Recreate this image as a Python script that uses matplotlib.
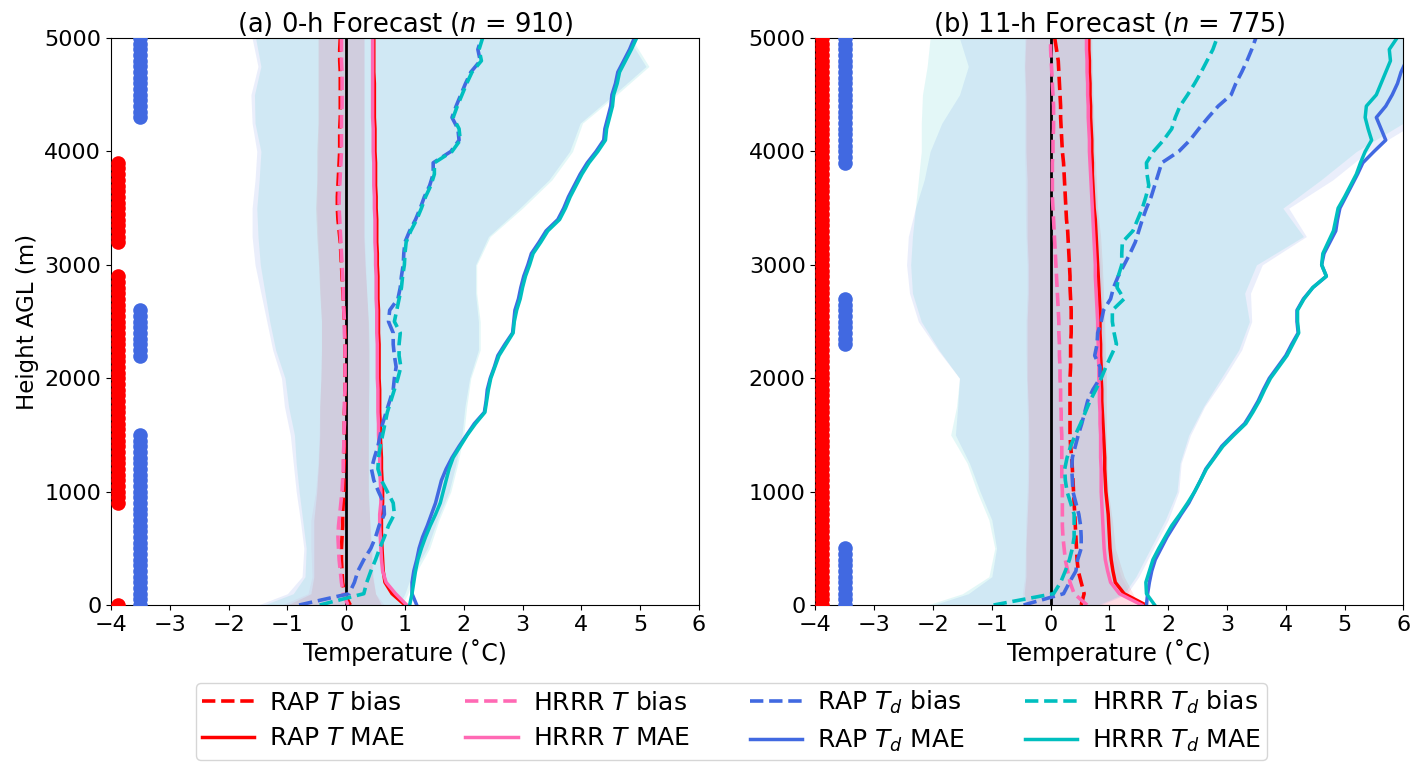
import numpy as np
import matplotlib.pyplot as plt

# height levels (m AGL)
hgt = np.arange(0, 5001, 100)
hdot = np.arange(0, 5001, 50)
hs = [0, 100, 250, 500, 750, 1000, 1250, 1500, 1750, 2000, 2250, 2500, 2750,
      3000, 3250, 3500, 3750, 4000, 4250, 4500, 4750, 5000]

# ---------------- (a) 0-h forecast ----------------
rap_t_bias_a = [0.07, -0.03, -0.06, -0.07, -0.08, -0.08, -0.07, -0.06, -0.06, -0.05, -0.04,
                -0.04, -0.04, -0.03, -0.03, -0.03, -0.03, -0.03, -0.02, -0.02, -0.02,
                -0.02, -0.02, -0.02, -0.02, -0.03, -0.04, -0.05, -0.06, -0.07, -0.08,
                -0.09, -0.10, -0.12, -0.14, -0.15, -0.15, -0.14, -0.13, -0.12, -0.11,
                -0.11, -0.11, -0.10, -0.10, -0.10, -0.10, -0.10, -0.11, -0.11, -0.10]
hrrr_t_bias_a = [0.03, -0.05, -0.08, -0.10, -0.12, -0.13, -0.14, -0.13, -0.11, -0.09, -0.07,
                 -0.06, -0.05, -0.05, -0.04, -0.04, -0.03, -0.03, -0.03, -0.02, -0.02,
                 -0.02, -0.02, -0.02, -0.03, -0.03, -0.04, -0.05, -0.05, -0.06, -0.07,
                 -0.08, -0.09, -0.10, -0.11, -0.12, -0.12, -0.11, -0.10, -0.09, -0.08,
                 -0.08, -0.08, -0.08, -0.07, -0.07, -0.07, -0.07, -0.08, -0.08, -0.08]
rap_t_mae_a = [1.00, 0.78, 0.66, 0.63, 0.62, 0.61, 0.60, 0.60, 0.60, 0.62, 0.62,
               0.61, 0.60, 0.60, 0.59, 0.58, 0.58, 0.57, 0.57, 0.57, 0.56,
               0.56, 0.56, 0.56, 0.55, 0.55, 0.55, 0.54, 0.54, 0.54, 0.53,
               0.53, 0.52, 0.52, 0.52, 0.51, 0.51, 0.50, 0.50, 0.50, 0.49,
               0.49, 0.49, 0.48, 0.48, 0.48, 0.48, 0.47, 0.47, 0.47, 0.47]
hrrr_t_mae_a = [1.03, 0.84, 0.68, 0.62, 0.60, 0.59, 0.58, 0.57, 0.57, 0.59, 0.59,
                0.58, 0.57, 0.57, 0.56, 0.55, 0.55, 0.54, 0.54, 0.54, 0.53,
                0.53, 0.53, 0.53, 0.52, 0.52, 0.52, 0.51, 0.51, 0.51, 0.50,
                0.50, 0.49, 0.49, 0.49, 0.48, 0.48, 0.47, 0.47, 0.47, 0.46,
                0.46, 0.46, 0.45, 0.45, 0.45, 0.45, 0.45, 0.45, 0.45, 0.45]
rap_td_bias_a = [-0.80, 0.05, 0.14, 0.20, 0.30, 0.42, 0.50, 0.56, 0.65, 0.64, 0.55,
                 0.47, 0.43, 0.48, 0.54, 0.58, 0.62, 0.68, 0.74, 0.80, 0.82,
                 0.85, 0.82, 0.80, 0.80, 0.72, 0.74, 0.88, 0.92, 0.94, 0.97,
                 0.98, 1.00, 1.08, 1.18, 1.26, 1.33, 1.42, 1.48, 1.48, 1.78,
                 1.92, 1.90, 1.80, 1.87, 1.95, 2.03, 2.12, 2.28, 2.24, 2.30]
hrrr_td_bias_a = [-0.45, 0.30, 0.35, 0.42, 0.50, 0.57, 0.65, 0.72, 0.82, 0.80, 0.70,
                  0.60, 0.54, 0.55, 0.58, 0.62, 0.66, 0.70, 0.76, 0.82, 0.88,
                  0.93, 0.90, 0.90, 0.92, 0.82, 0.86, 0.90, 0.94, 0.96, 0.99,
                  1.00, 1.02, 1.10, 1.20, 1.28, 1.35, 1.44, 1.50, 1.50, 1.80,
                  1.94, 1.92, 1.82, 1.89, 1.97, 2.05, 2.14, 2.30, 2.26, 2.32]
rap_td_mae_a = [1.20, 1.12, 1.12, 1.15, 1.20, 1.24, 1.30, 1.38, 1.45, 1.52, 1.57,
                1.62, 1.70, 1.80, 1.92, 2.05, 2.18, 2.35, 2.38, 2.40, 2.45,
                2.52, 2.58, 2.70, 2.83, 2.85, 2.87, 2.93, 2.97, 3.02, 3.09,
                3.15, 3.28, 3.40, 3.60, 3.70, 3.78, 3.88, 3.98, 4.10, 4.25,
                4.38, 4.40, 4.45, 4.50, 4.52, 4.58, 4.62, 4.72, 4.82, 4.90]
hrrr_td_mae_a = [1.08, 1.12, 1.15, 1.18, 1.22, 1.28, 1.35, 1.43, 1.52, 1.60, 1.65,
                 1.70, 1.75, 1.82, 1.94, 2.06, 2.20, 2.36, 2.39, 2.42, 2.46,
                 2.53, 2.60, 2.72, 2.84, 2.86, 2.90, 2.96, 3.00, 3.05, 3.12,
                 3.18, 3.31, 3.43, 3.63, 3.73, 3.81, 3.91, 4.01, 4.13, 4.28,
                 4.41, 4.43, 4.48, 4.53, 4.55, 4.61, 4.65, 4.75, 4.85, 4.94]

rap_t_lo_a = [-1.00, -0.60, -0.55, -0.55, -0.55, -0.50, -0.47, -0.45, -0.45, -0.43, -0.42,
              -0.42, -0.45, -0.47, -0.50, -0.52, -0.50, -0.50, -0.48, -0.48, -0.48, -0.48]
rap_t_hi_a = [0.60, 0.50, 0.45, 0.42, 0.40, 0.38, 0.38, 0.38, 0.38, 0.39, 0.39,
              0.38, 0.35, 0.32, 0.30, 0.30, 0.30, 0.30, 0.30, 0.30, 0.30, 0.30]
hrrr_t_lo_a = [-1.10, -0.65, -0.58, -0.60, -0.60, -0.52, -0.48, -0.46, -0.45, -0.43, -0.42,
               -0.42, -0.44, -0.46, -0.48, -0.50, -0.49, -0.48, -0.47, -0.47, -0.47, -0.47]
hrrr_t_hi_a = [0.65, 0.50, 0.46, 0.44, 0.40, 0.37, 0.37, 0.37, 0.38, 0.38, 0.38,
               0.37, 0.35, 0.33, 0.31, 0.31, 0.31, 0.31, 0.31, 0.31, 0.31, 0.31]
rap_td_lo_a = [-1.50, -1.00, -0.75, -0.72, -0.78, -0.85, -0.90, -0.95, -1.05, -1.10, -1.25,
               -1.35, -1.45, -1.55, -1.60, -1.60, -1.55, -1.52, -1.60, -1.62, -1.50, -1.60]
rap_td_hi_a = [0.90, 1.00, 1.10, 1.38, 1.55, 1.75, 1.87, 1.97, 2.02, 2.10, 2.25,
               2.25, 2.20, 2.20, 2.42, 2.95, 3.45, 3.80, 3.98, 4.55, 5.10, 4.80]
hrrr_td_lo_a = [-1.40, -0.90, -0.70, -0.68, -0.74, -0.80, -0.85, -0.88, -0.98, -1.04, -1.20,
                -1.30, -1.38, -1.46, -1.50, -1.52, -1.48, -1.45, -1.55, -1.56, -1.45, -1.54]
hrrr_td_hi_a = [0.95, 1.05, 1.15, 1.42, 1.58, 1.78, 1.90, 2.00, 2.05, 2.12, 2.28,
                2.28, 2.22, 2.22, 2.45, 3.00, 3.50, 3.85, 4.02, 4.60, 5.15, 4.85]

sig_t_a = [(0, 0), (900, 2900), (3200, 3900)]
sig_td_a = [(0, 1500), (2200, 2600), (4300, 5000)]

# ---------------- (b) 11-h forecast ----------------
rap_t_bias_b = [0.52, 0.57, 0.52, 0.47, 0.45, 0.44, 0.43, 0.42, 0.41, 0.40, 0.39,
                0.38, 0.37, 0.36, 0.34, 0.33, 0.33, 0.33, 0.33, 0.33, 0.33,
                0.34, 0.34, 0.34, 0.35, 0.35, 0.35, 0.34, 0.33, 0.33, 0.32,
                0.31, 0.30, 0.29, 0.27, 0.26, 0.25, 0.24, 0.23, 0.22, 0.20,
                0.19, 0.18, 0.17, 0.17, 0.16, 0.15, 0.14, 0.13, 0.10, 0.07]
hrrr_t_bias_b = [0.62, 0.40, 0.33, 0.29, 0.25, 0.23, 0.21, 0.20, 0.20, 0.20, 0.20,
                 0.19, 0.19, 0.19, 0.19, 0.19, 0.18, 0.18, 0.17, 0.17, 0.16,
                 0.16, 0.15, 0.15, 0.14, 0.14, 0.13, 0.12, 0.11, 0.10, 0.09,
                 0.08, 0.07, 0.06, 0.05, 0.04, 0.03, 0.03, 0.03, 0.03, 0.04,
                 0.04, 0.05, 0.05, 0.05, 0.04, 0.03, 0.02, 0.01, 0.00, 0.00]
rap_t_mae_b = [1.62, 1.25, 1.10, 1.06, 1.03, 1.01, 1.00, 0.99, 0.98, 0.96, 0.94,
               0.93, 0.92, 0.92, 0.91, 0.90, 0.89, 0.88, 0.87, 0.87, 0.86,
               0.86, 0.85, 0.85, 0.84, 0.84, 0.84, 0.83, 0.82, 0.81, 0.80,
               0.79, 0.78, 0.77, 0.76, 0.74, 0.73, 0.72, 0.71, 0.71, 0.70,
               0.70, 0.69, 0.68, 0.68, 0.67, 0.67, 0.66, 0.66, 0.65, 0.65]
hrrr_t_mae_b = [1.55, 1.17, 1.02, 0.97, 0.93, 0.91, 0.90, 0.89, 0.88, 0.87, 0.86,
                0.86, 0.86, 0.85, 0.85, 0.85, 0.84, 0.84, 0.83, 0.83, 0.82,
                0.82, 0.81, 0.81, 0.80, 0.80, 0.79, 0.78, 0.77, 0.76, 0.76,
                0.75, 0.74, 0.73, 0.72, 0.71, 0.70, 0.69, 0.68, 0.67, 0.66,
                0.66, 0.65, 0.64, 0.64, 0.63, 0.63, 0.62, 0.62, 0.61, 0.61]
rap_td_bias_b = [-0.46, 0.22, 0.32, 0.43, 0.46, 0.52, 0.52, 0.51, 0.48, 0.43, 0.38,
                 0.37, 0.36, 0.37, 0.42, 0.47, 0.53, 0.58, 0.63, 0.72, 0.84,
                 0.84, 0.75, 0.79, 0.80, 0.86, 0.90, 1.02, 1.07, 1.15, 1.25,
                 1.35, 1.44, 1.50, 1.56, 1.63, 1.71, 1.77, 1.83, 1.89, 2.18,
                 2.37, 2.52, 2.68, 2.85, 3.07, 3.15, 3.25, 3.34, 3.42, 3.49]
hrrr_td_bias_b = [-0.97, 0.05, 0.17, 0.25, 0.32, 0.37, 0.40, 0.40, 0.40, 0.34, 0.28,
                  0.25, 0.24, 0.28, 0.34, 0.42, 0.51, 0.59, 0.67, 0.77, 0.86,
                  0.94, 1.03, 1.12, 1.08, 1.05, 1.05, 1.25, 1.13, 1.15, 1.21,
                  1.21, 1.22, 1.40, 1.48, 1.56, 1.62, 1.67, 1.64, 1.63, 1.75,
                  1.92, 2.06, 2.12, 2.20, 2.33, 2.45, 2.56, 2.66, 2.76, 2.83]
rap_td_mae_b = [1.63, 1.65, 1.68, 1.72, 1.78, 1.88, 1.98, 2.10, 2.22, 2.35, 2.45,
                2.55, 2.64, 2.78, 2.91, 3.10, 3.30, 3.42, 3.53, 3.62, 3.72,
                3.86, 4.00, 4.10, 4.21, 4.19, 4.19, 4.30, 4.46, 4.69, 4.61,
                4.65, 4.75, 4.85, 4.88, 4.92, 5.02, 5.12, 5.22, 5.31, 5.50,
                5.70, 5.62, 5.54, 5.70, 5.81, 5.90, 5.96, 6.05, 6.15, 6.25]
hrrr_td_mae_b = [1.77, 1.63, 1.62, 1.68, 1.74, 1.84, 1.95, 2.06, 2.20, 2.33, 2.45,
                 2.55, 2.65, 2.79, 2.93, 3.12, 3.32, 3.44, 3.55, 3.64, 3.74,
                 3.88, 4.02, 4.12, 4.22, 4.20, 4.20, 4.31, 4.46, 4.69, 4.61,
                 4.63, 4.72, 4.81, 4.85, 4.89, 5.00, 5.10, 5.20, 5.27, 5.35,
                 5.46, 5.40, 5.35, 5.37, 5.54, 5.62, 5.70, 5.78, 5.76, 5.89]

rap_t_lo_b = [-0.40, -0.45, -0.42, -0.42, -0.40, -0.38, -0.37, -0.37, -0.38, -0.40, -0.40,
              -0.40, -0.38, -0.38, -0.40, -0.40, -0.40, -0.42, -0.42, -0.42, -0.44, -0.42]
rap_t_hi_b = [1.50, 1.40, 1.25, 1.10, 1.05, 0.98, 0.96, 0.95, 0.95, 0.95, 0.93,
              0.92, 0.90, 0.88, 0.85, 0.80, 0.78, 0.75, 0.74, 0.72, 0.71, 0.70]
hrrr_t_lo_b = [-0.45, -0.48, -0.44, -0.43, -0.42, -0.40, -0.39, -0.39, -0.40, -0.41, -0.42,
               -0.42, -0.40, -0.40, -0.42, -0.43, -0.43, -0.44, -0.44, -0.44, -0.45, -0.44]
hrrr_t_hi_b = [1.45, 1.35, 1.20, 1.05, 1.00, 0.95, 0.93, 0.92, 0.92, 0.92, 0.90,
               0.89, 0.87, 0.85, 0.82, 0.78, 0.76, 0.73, 0.72, 0.70, 0.69, 0.68]
rap_td_lo_b = [-2.00, -1.40, -1.00, -0.92, -1.00, -1.20, -1.38, -1.62, -1.58, -1.55, -1.92,
               -2.25, -2.40, -2.45, -2.42, -2.30, -2.15, -2.05, -1.85, -1.55, -1.40, -1.55]
rap_td_hi_b = [0.85, 1.30, 1.50, 1.75, 2.00, 2.18, 2.22, 2.38, 2.62, 2.95, 3.25,
               3.42, 3.40, 3.60, 4.35, 4.05, 4.80, 5.40, 6.20, 6.50, 6.50, 6.50]
hrrr_td_lo_b = [-2.10, -1.50, -1.05, -0.95, -1.05, -1.25, -1.42, -1.70, -1.60, -1.55, -1.90,
                -2.20, -2.35, -2.38, -2.35, -2.30, -2.25, -2.20, -2.20, -2.18, -2.10, -2.05]
hrrr_td_hi_b = [0.80, 1.25, 1.45, 1.70, 1.95, 2.15, 2.20, 2.35, 2.60, 2.90, 3.20,
                3.38, 3.30, 3.50, 4.30, 3.95, 4.60, 5.20, 6.00, 6.50, 6.50, 6.50]

sig_t_b = [(0, 5000)]
sig_td_b = [(0, 500), (2300, 2700), (3900, 5000)]

titles = ['(a) 0-h Forecast ($n$ = 910)', '(b) 11-h Forecast ($n$ = 775)']

c_rap_t, c_hrrr_t, c_rap_td, c_hrrr_td = 'red', 'hotpink', 'royalblue', 'c'

panels = [
    dict(t_bias=(rap_t_bias_a, hrrr_t_bias_a), t_mae=(rap_t_mae_a, hrrr_t_mae_a),
         td_bias=(rap_td_bias_a, hrrr_td_bias_a), td_mae=(rap_td_mae_a, hrrr_td_mae_a),
         t_env=((rap_t_lo_a, rap_t_hi_a), (hrrr_t_lo_a, hrrr_t_hi_a)),
         td_env=((rap_td_lo_a, rap_td_hi_a), (hrrr_td_lo_a, hrrr_td_hi_a)),
         sig_t=sig_t_a, sig_td=sig_td_a),
    dict(t_bias=(rap_t_bias_b, hrrr_t_bias_b), t_mae=(rap_t_mae_b, hrrr_t_mae_b),
         td_bias=(rap_td_bias_b, hrrr_td_bias_b), td_mae=(rap_td_mae_b, hrrr_td_mae_b),
         t_env=((rap_t_lo_b, rap_t_hi_b), (hrrr_t_lo_b, hrrr_t_hi_b)),
         td_env=((rap_td_lo_b, rap_td_hi_b), (hrrr_td_lo_b, hrrr_td_hi_b)),
         sig_t=sig_t_b, sig_td=sig_td_b),
]


def sig_levels(ranges):
    return [z for z in hdot if any(lo <= z <= hi for lo, hi in ranges)]


fig = plt.figure(figsize=(14.12, 7.62), dpi=100)
ax_a = fig.add_axes([0.0786, 0.206, 0.4164, 0.744])
ax_b = fig.add_axes([0.5775, 0.206, 0.4164, 0.744])

handles = []
for k, (ax, p) in enumerate(zip([ax_a, ax_b], panels)):
    # spread envelopes (T first, Td on top)
    (lo, hi), (lo2, hi2) = p['t_env']
    ax.fill_betweenx(hs, lo, hi, color=c_rap_t, alpha=0.09, lw=0)
    ax.fill_betweenx(hs, lo2, hi2, color=c_hrrr_t, alpha=0.09, lw=0)
    (lo, hi), (lo2, hi2) = p['td_env']
    ax.fill_betweenx(hs, lo, hi, color=c_rap_td, alpha=0.11, lw=0)
    ax.fill_betweenx(hs, lo2, hi2, color=c_hrrr_td, alpha=0.11, lw=0)

    ax.axvline(0, color='k', lw=2, zorder=2)

    l1, = ax.plot(p['t_bias'][0], hgt, '--', color=c_rap_t, lw=2.6, label='RAP $T$ bias')
    l2, = ax.plot(p['t_mae'][0], hgt, '-', color=c_rap_t, lw=2.5, label='RAP $T$ MAE')
    l3, = ax.plot(p['t_bias'][1], hgt, '--', color=c_hrrr_t, lw=2.6, label='HRRR $T$ bias')
    l4, = ax.plot(p['t_mae'][1], hgt, '-', color=c_hrrr_t, lw=2.5, label='HRRR $T$ MAE')
    l5, = ax.plot(p['td_bias'][0], hgt, '--', color=c_rap_td, lw=2.6, label='RAP $T_d$ bias')
    l6, = ax.plot(p['td_mae'][0], hgt, '-', color=c_rap_td, lw=2.5, label='RAP $T_d$ MAE')
    l7, = ax.plot(p['td_bias'][1], hgt, '--', color=c_hrrr_td, lw=2.6, label='HRRR $T_d$ bias')
    l8, = ax.plot(p['td_mae'][1], hgt, '-', color=c_hrrr_td, lw=2.5, label='HRRR $T_d$ MAE')
    if k == 0:
        handles = [l1, l2, l3, l4, l5, l6, l7, l8]

    # significance markers
    st = sig_levels(p['sig_t'])
    sd = sig_levels(p['sig_td'])
    ax.plot([-3.88] * len(st), st, 'o', color='red', ms=10.5, mec='none', zorder=4)
    ax.plot([-3.5] * len(sd), sd, 'o', color='royalblue', ms=10.5, mec='none', zorder=4)

    ax.set_xlim(-4, 6)
    ax.set_ylim(0, 5000)
    ax.set_xticks(range(-4, 7))
    ax.set_yticks(range(0, 5001, 1000))
    ax.tick_params(labelsize=16)
    ax.set_xlabel('Temperature (˚C)', fontsize=17, labelpad=3)
    ax.set_title(titles[k], fontsize=18.5, pad=3)

ax_a.set_ylabel('Height AGL (m)', fontsize=16.5)

fig.legend(handles=handles, loc='upper center', bbox_to_anchor=(0.518, 0.104), ncol=4,
           fontsize=18, handlelength=2.1, handletextpad=0.6, columnspacing=2.4,
           borderpad=0.25, labelspacing=0.45, borderaxespad=0.0, frameon=True)

fig.savefig('out.png', dpi=100)
